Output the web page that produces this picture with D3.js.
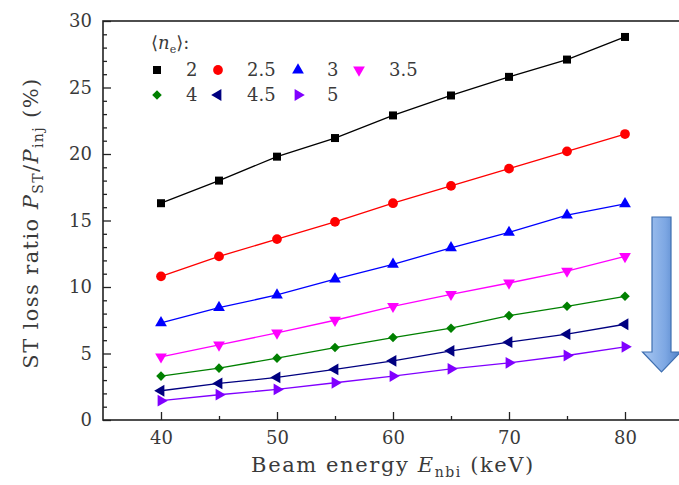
<!DOCTYPE html>
<html><head><meta charset="utf-8">
<script src="https://cdn.jsdelivr.net/npm/d3@7"></script>
<style>body{margin:0;background:#fff}svg{display:block}</style></head>
<body>
<script>
// ---- data ----
const energies = [40, 45, 50, 55, 60, 65, 70, 75, 80];
const densityLabels = ["2", "2.5", "3", "3.5", "4", "4.5", "5"];
const loss_ne2   = [16.3, 18.0, 19.8, 21.2, 22.9, 24.4, 25.8, 27.1, 28.8];
const loss_ne2_5 = [10.8, 12.3, 13.6, 14.9, 16.3, 17.6, 18.9, 20.2, 21.5];
const loss_ne3   = [7.3, 8.45, 9.4, 10.6, 11.7, 12.95, 14.1, 15.4, 16.25];
const loss_ne3_5 = [4.75, 5.65, 6.55, 7.5, 8.55, 9.45, 10.3, 11.2, 12.3];
const loss_ne4   = [3.3, 3.9, 4.65, 5.45, 6.2, 6.9, 7.85, 8.55, 9.3];
const loss_ne4_5 = [2.2, 2.75, 3.2, 3.8, 4.45, 5.2, 5.85, 6.45, 7.2];
const loss_ne5   = [1.45, 1.9, 2.3, 2.8, 3.3, 3.85, 4.3, 4.85, 5.5];
const xTicks = [40, 50, 60, 70, 80];
const yTicks = [0, 5, 10, 15, 20, 25, 30];

const seriesValues = [loss_ne2, loss_ne2_5, loss_ne3, loss_ne3_5, loss_ne4, loss_ne4_5, loss_ne5];
const colors = ["#000000", "#ff0000", "#0000ff", "#ff00ff", "#008000", "#000080", "#8000ff"];
const shapes = [
  {t: d3.symbolSquare, s: 64, r: 0},
  {t: d3.symbolCircle, s: 75, r: 0},
  {t: d3.symbolTriangle, s: 60, r: 0},
  {t: d3.symbolTriangle, s: 60, r: 180},
  {t: d3.symbolSquare, s: 46, r: 45},
  {t: d3.symbolTriangle, s: 60, r: -90},
  {t: d3.symbolTriangle, s: 60, r: 90}
];

const W = 679, H = 485;
const m = {left: 103, top: 21, right: 683, bottom: 420};
const x = d3.scaleLinear().domain([35, 85]).range([m.left, m.right]);
const y = d3.scaleLinear().domain([0, 30]).range([m.bottom, m.top]);
const FONT = "'DejaVu Serif', 'Liberation Serif', serif";

const svg = d3.select("body").append("svg").attr("width", W).attr("height", H)
  .style("font-family", FONT);

// gradient for arrow
const defs = svg.append("defs");
const g1 = defs.append("linearGradient").attr("id", "arrowGrad")
  .attr("x1", "0").attr("y1", "0").attr("x2", "1").attr("y2", "0");
g1.append("stop").attr("offset", "0%").attr("stop-color", "#a9c8f2");
g1.append("stop").attr("offset", "60%").attr("stop-color", "#7da7e3");
g1.append("stop").attr("offset", "100%").attr("stop-color", "#4f80c6");

// axes
const xAxis = d3.axisBottom(x).tickValues(xTicks).tickSize(-8).tickPadding(11).tickFormat(d3.format("d"));
const xMinor = d3.axisBottom(x).tickValues([45, 55, 65, 75]).tickSize(-4).tickFormat("");
const yAxis = d3.axisLeft(y).tickValues(yTicks).tickSize(-8).tickPadding(11).tickFormat(d3.format("d"));
const yMinor = d3.axisLeft(y).tickValues(d3.range(0, 31).filter(v => v % 5 !== 0)).tickSize(-4).tickFormat("");

function styleAxis(g) {
  g.select(".domain").remove();
  g.selectAll("line").attr("stroke", "#222").attr("stroke-width", 1.3);
  g.selectAll("text").attr("fill", "#3a3a3a").style("font-size", "18px")
    .style("font-family", FONT);
}
svg.append("g").attr("transform", `translate(0,${m.bottom})`).call(xAxis).call(styleAxis);
svg.append("g").attr("transform", `translate(0,${m.bottom})`).call(xMinor).call(styleAxis);
svg.append("g").attr("transform", `translate(${m.left},0)`).call(yAxis).call(styleAxis);
svg.append("g").attr("transform", `translate(${m.left},0)`).call(yMinor).call(styleAxis);

// frame
svg.append("rect").attr("x", m.left).attr("y", m.top)
  .attr("width", m.right - m.left).attr("height", m.bottom - m.top)
  .attr("fill", "none").attr("stroke", "#222").attr("stroke-width", 1.6);

// series
const line = d3.line().x((d, i) => x(energies[i])).y(d => y(d));
seriesValues.forEach((vals, k) => {
  svg.append("path").datum(vals).attr("d", line)
    .attr("fill", "none").attr("stroke", colors[k]).attr("stroke-width", 1.3);
  const sh = shapes[k];
  svg.append("g").selectAll("path").data(vals).join("path")
    .attr("d", d3.symbol().type(sh.t).size(sh.s))
    .attr("transform", (d, i) => `translate(${x(energies[i])},${y(d)}) rotate(${sh.r})`)
    .attr("fill", colors[k]);
});

// legend
const lg = svg.append("g").style("font-size", "18px").attr("fill", "#3a3a3a");
const hdr = lg.append("text").attr("x", 151).attr("y", 49);
hdr.append("tspan").text("\u27E8");
hdr.append("tspan").attr("font-style", "italic").text("n");
hdr.append("tspan").attr("font-size", "11px").attr("dy", 4).text("e");
hdr.append("tspan").attr("dy", -4).text("\u27E9:");
const symX = [157, 218, 298, 359], labX = [186, 247, 327, 389], rowY = [70, 95];
densityLabels.forEach((lab, k) => {
  const c = k % 4, r = Math.floor(k / 4);
  const sh = shapes[k];
  lg.append("path").attr("d", d3.symbol().type(sh.t).size(sh.s))
    .attr("transform", `translate(${symX[c]},${rowY[r]}) rotate(${sh.r})`)
    .attr("fill", colors[k]);
  lg.append("text").attr("x", labX[c]).attr("y", rowY[r] + 6).text(lab);
});

// x title
const xt = svg.append("text").attr("x", 393).attr("y", 472).attr("text-anchor", "middle")
  .attr("fill", "#3a3a3a").style("font-size", "21px").style("letter-spacing", "1.6px");
xt.append("tspan").text("Beam energy ");
xt.append("tspan").attr("font-style", "italic").text("E");
xt.append("tspan").attr("font-size", "14px").attr("dy", 5).text("nbi");
xt.append("tspan").attr("dy", -5).text(" (keV)");

// y title
const yt = svg.append("text").attr("transform", "translate(38,223) rotate(-90)")
  .attr("text-anchor", "middle").attr("fill", "#3a3a3a").style("font-size", "21px")
  .style("letter-spacing", "1.4px");
yt.append("tspan").text("ST loss ratio ");
yt.append("tspan").attr("font-style", "italic").text("P");
yt.append("tspan").attr("font-size", "14px").attr("dy", 5).text("ST");
yt.append("tspan").attr("dy", -5).text("/");
yt.append("tspan").attr("font-style", "italic").text("P");
yt.append("tspan").attr("font-size", "14px").attr("dy", 5).text("inj");
yt.append("tspan").attr("dy", -5).text(" (%)");

// arrow
const ax = 661.5, aTop = 217, aShaftB = 352, aTip = 372, sw = 9.5, hw = 19;
svg.append("path")
  .attr("d", `M${ax - sw},${aTop} L${ax + sw},${aTop} L${ax + sw},${aShaftB} L${ax + hw},${aShaftB} L${ax},${aTip} L${ax - hw},${aShaftB} L${ax - sw},${aShaftB} Z`)
  .attr("fill", "url(#arrowGrad)").attr("stroke", "#3f6fb0").attr("stroke-width", 1.2);
</script>
</body></html>
